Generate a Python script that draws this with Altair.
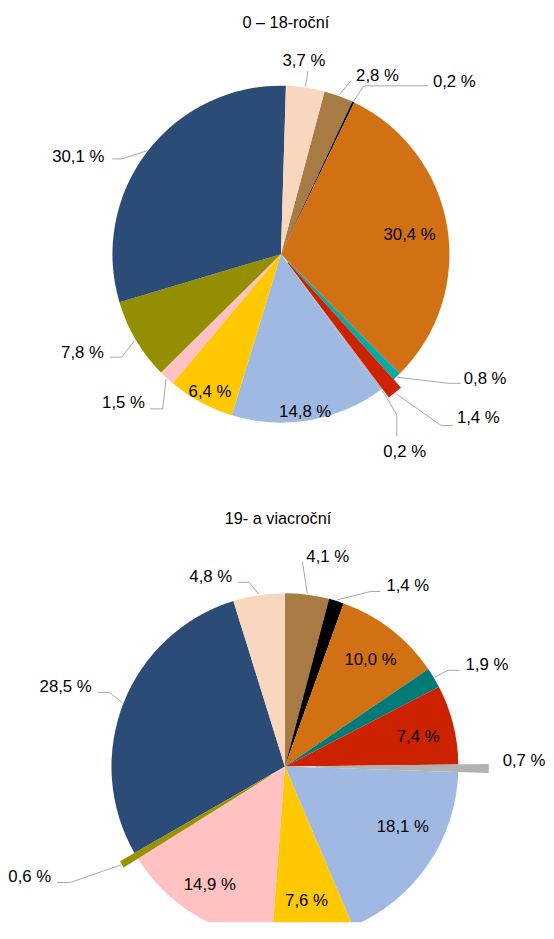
import math
import altair as alt
import pandas as pd

# ---------------- data ----------------
categories = ["k01", "k02", "k03", "k04", "k05", "k06",
              "k07", "k08", "k09", "k10", "k11", "k12"]
top_values = [2.8, 0.2, 30.4, 0.8, 1.4, 0.2, 14.8, 6.4, 1.5, 7.8, 30.1, 3.7]
bottom_values = [4.1, 1.4, 10.0, 1.9, 7.4, 0.7, 18.1, 7.6, 14.9, 0.6, 28.5, 4.8]
titles = ["0 – 18-roční", "19- a viacroční"]

# ---------------- styles ----------------
top_palette = ["#A97B44", "#000000", "#D17114", "#0BA8A8", "#CC2200", "#B2B2B2",
               "#A0B9E2", "#FFC800", "#FFC1C1", "#948F00", "#2C4C78", "#F9D6BE"]
bottom_palette = ["#A97B44", "#000000", "#D17114", "#007B78", "#CC2200", "#B2B2B2",
                  "#A0B9E2", "#FFC800", "#FFC1C1", "#999100", "#2C4C78", "#F9D6BE"]
FONT = "Liberation Sans"
FS = 17
FS_TITLE = 16.5

# label layout (Excel-like placement): re = radius of elbow / inside label,
# dl = angle shift (deg), hx/hy = leader tail, tdx/tdy = text offset, ex = explode
top_layout = {
    0: dict(kind="out", re=190, dl=2.0, tdx=5, tdy=-5, align="left"),
    1: dict(kind="out", re=190.5, dl=0.8, hx=65, tdx=5, tdy=-4, align="left"),
    2: dict(kind="in", re=132, dl=1.2),
    3: dict(kind="out", re=215, dl=-9, hx=12, tdx=3, tdy=-4, align="left"),
    4: dict(kind="out", re=238, dl=-3.6, hx=12, tdx=4, tdy=-7, align="left", ex=11),
    5: dict(kind="out", re=201, dl=0.8, hy=22, tdx=8, tdy=16, align="center"),
    6: dict(kind="in", re=162, dl=0.9),
    7: dict(kind="in", re=157, dl=-1.2),
    8: dict(kind="out", re=197.6, dl=-5.3, hx=-13, tdx=-5, tdy=-6, align="right"),
    9: dict(kind="out", re=192.5, dl=-2.3, hx=-12, tdx=-6, tdy=-4, align="right"),
    10: dict(kind="out", re=188, dl=-6.6, hx=-10, tdx=-8, tdy=-2, align="right"),
    11: dict(kind="out", re=188, dl=0, tdx=-4, tdy=-10, align="center"),
}
bottom_layout = {
    0: dict(kind="out", re=208.8, dl=-2.5, tdx=4, tdy=-5, align="left"),
    1: dict(kind="out", re=197.9, dl=8.8, hx=10, tdx=6, tdy=-5.6, align="left"),
    2: dict(kind="in", re=139, dl=0.9),
    3: dict(kind="out", re=192, dl=0.2, hx=12, tdx=6, tdy=-5, align="left"),
    4: dict(kind="in", re=138.6, dl=1.5),
    5: dict(kind="out", re=221, dl=0, tdy=-8, align="left", ex=31, leader=0),
    6: dict(kind="in", re=134.5, dl=-7.3),
    7: dict(kind="in", re=138, dl=0.2),
    8: dict(kind="in", re=142, dl=1.3),
    9: dict(kind="out", re=247.9, dl=2.6, hx=-13, tdx=-6, tdy=-5.7, align="right", ex=17),
    10: dict(kind="out", re=193.3, dl=1.5, hx=-12, tdx=-6, tdy=-5.7, align="right"),
    11: dict(kind="out", re=190.5, dl=-2.4, hx=-11, tdx=-6, tdy=-5, align="right"),
}


def build_table(values, layout):
    rows = []
    for i, (c, v) in enumerate(zip(categories, values)):
        L = dict(kind="in", re=0, dl=0, hx=0, hy=0, tdx=0, tdy=0,
                 align="center", ex=0, leader=1)
        L.update(layout[i])
        rows.append(dict(idx=i, cat=c, value=v, **L))
    return pd.DataFrame(rows)


def pie_panel(values, palette, layout, title, cx, cy, R, start_deg, height, title_dx, clip):
    s = math.radians(start_deg)
    df = build_table(values, layout)
    base = (
        alt.Chart(df)
        .transform_window(cum="sum(value)", sort=[alt.SortField("idx")], frame=[None, 0])
        .transform_joinaggregate(tot="sum(value)")
        .transform_calculate(
            mid=f"{s} + 2*PI*(datum.cum - datum.value/2)/datum.tot",
            la="datum.mid + datum.dl*PI/180",
            sx=f"{cx} + ({R} + datum.ex + 1)*sin(datum.mid)",
            sy=f"{cy} - ({R} + datum.ex + 1)*cos(datum.mid)",
            exx=f"{cx} + datum.re*sin(datum.la)",
            eyy=f"{cy} - datum.re*cos(datum.la)",
            enx="datum.exx + datum.hx",
            eny="datum.eyy + datum.hy",
            tx="datum.enx + datum.tdx",
            ty="datum.eny + datum.tdy",
            lab="replace(format(datum.value, '.1f'), '.', ',') + ' %'",
        )
    )
    theta = alt.Theta("value:Q", stack="normalize",
                      scale=alt.Scale(domain=[0, 1], range=[s, s + 2 * math.pi]))
    color = alt.Color("cat:N", scale=alt.Scale(domain=categories, range=palette), legend=None)
    order = alt.Order("idx:Q", sort="ascending")

    layers = [
        base.mark_arc(x=cx, y=cy, radius=R, clip=clip).encode(
            theta=theta, color=color, order=order,
            opacity=alt.condition("datum.ex > 0", alt.value(0), alt.value(1)),
        )
    ]
    # exploded slices: same stack, shifted outward by their explode distance
    for e in sorted({L.get("ex", 0) for L in layout.values()} - {0}):
        layers.append(
            base.mark_arc(x=cx, y=cy, radius=R + e, radius2=e, clip=clip).encode(
                theta=theta, color=color, order=order,
                opacity=alt.condition(f"datum.ex == {e}", alt.value(1), alt.value(0)),
            )
        )
    X = lambda f: alt.X(f, scale=None, axis=None)
    Y = lambda f: alt.Y(f, scale=None, axis=None)
    layers.append(base.transform_filter("datum.kind == 'out' && datum.leader == 1").mark_rule(
        color="#A6A6A6", strokeWidth=1).encode(
        x=X("sx:Q"), y=Y("sy:Q"), x2="exx:Q", y2="eyy:Q"))
    layers.append(base.transform_filter(
        "datum.kind == 'out' && datum.leader == 1 && (datum.hx != 0 || datum.hy != 0)"
    ).mark_rule(color="#A6A6A6", strokeWidth=1).encode(
        x=X("exx:Q"), y=Y("eyy:Q"), x2="enx:Q", y2="eny:Q"))
    for a in ["left", "center", "right"]:
        layers.append(
            base.transform_filter(f"datum.align == '{a}'").mark_text(
                align=a, baseline="middle", font=FONT, fontSize=FS, color="#000000"
            ).encode(x=X("tx:Q"), y=Y("ty:Q"), text="lab:N")
        )
    return alt.layer(*layers).properties(
        width=538, height=height,
        title=alt.TitleParams(title, anchor="middle", dx=title_dx, dy=2,
                              font=FONT, fontSize=FS_TITLE, fontWeight="normal",
                              color="#000000", offset=6),
    )


top = pie_panel(top_values, top_palette, top_layout, titles[0],
                cx=276, cy=222, R=171, start_deg=15, height=482, title_dx=12, clip=False)
bottom = pie_panel(bottom_values, bottom_palette, bottom_layout, titles[1],
                   cx=280, cy=239, R=176, start_deg=0, height=397, title_dx=4, clip=True)

chart = (
    alt.vconcat(top, bottom, spacing=0)
    .resolve_scale(theta="independent", color="independent")
    .properties(padding=0)
    .configure_view(strokeWidth=0)
)
chart.save("out.html", embed_options={"renderer": "svg", "actions": False})
